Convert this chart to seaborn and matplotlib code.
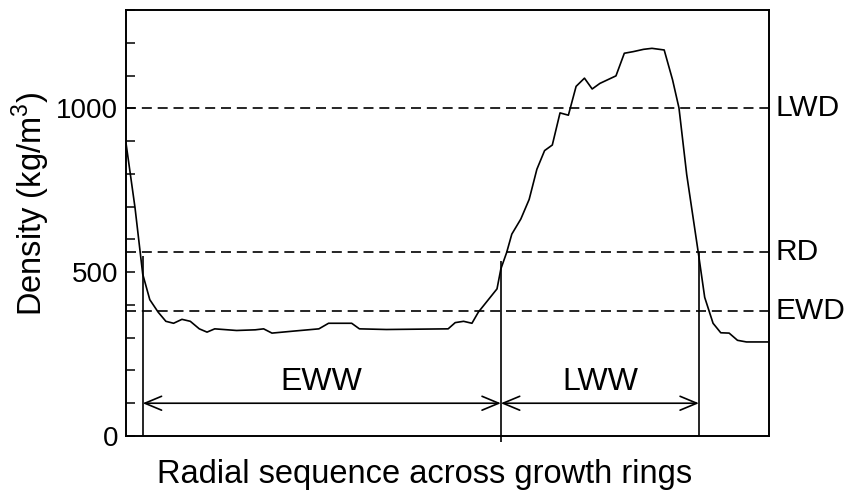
import numpy as np
import pandas as pd
import matplotlib
matplotlib.use('Agg')
import matplotlib.pyplot as plt
import matplotlib.transforms as mtransforms
import seaborn as sns

# Density profile (position in % of ring width)
position = [0, 1.4, 2.6, 3.7, 5.0, 6.2, 7.4, 8.7, 10.0, 11.4, 12.6, 13.8, 17.2, 20.1,
            21.4, 22.7, 26.0, 30.0, 31.5, 35.1, 36.3, 40.5, 50.1, 51.2, 52.5, 53.8,
            54.8, 57.7, 58.3, 59.2, 60.0, 61.4, 62.7, 63.9, 65.1, 66.3, 67.5, 68.8,
            70.0, 71.3, 72.5, 73.7, 76.2, 77.5, 78.9, 80.5, 81.8, 83.7, 85.0, 86.0,
            87.2, 89.0, 90.0, 91.3, 92.5, 93.8, 95.1, 96.5, 100]
density = [894, 697, 494, 416, 378, 350, 344, 356, 350, 327, 317, 327, 322, 324,
           327, 314, 320, 327, 344, 344, 327, 325, 327, 346, 350, 344,
           378, 449, 510, 560, 616, 662, 722, 814, 871, 888, 986, 979,
           1067, 1092, 1059, 1076, 1099, 1168, 1173, 1180, 1183, 1178, 1087, 1001,
           798, 560, 423, 344, 315, 314, 292, 287, 287]

# Reference density levels
level_names = ['LWD', 'RD', 'EWD']
level_values = [1000, 560, 380]

# Earlywood / latewood boundaries
bound_pos = [2.6, 58.3, 89.1]
bound_top = [550, 535, 560]
bound_bottom = [0, -18, 0]

# Width arrows
width_names = ['EWW', 'LWW']
width_start = [2.6, 58.3]
width_end = [58.3, 89.1]
arrow_level = 100

df = pd.DataFrame({'position': position, 'density': density})

sns.set_theme(style='ticks')
plt.rcParams['font.family'] = ['Liberation Sans', 'DejaVu Sans']
plt.rcParams['mathtext.fontset'] = 'custom'
plt.rcParams['mathtext.rm'] = 'Liberation Sans'
plt.rcParams['text.color'] = 'black'
plt.rcParams['axes.labelcolor'] = 'black'

fig = plt.figure(figsize=(8.54, 4.99), dpi=100)
ax = fig.add_axes([126 / 854, 63 / 499, 643 / 854, 426 / 499])

sns.lineplot(data=df, x='position', y='density', color='black', lw=1.2,
             estimator=None, ax=ax)

# dashed reference levels with labels at the right
trans = mtransforms.blended_transform_factory(ax.transAxes, ax.transData)
for name, val in zip(level_names, level_values):
    ax.axhline(val, color='black', lw=1.2, ls=(0, (6, 3.5)))
    ax.annotate(name, xy=(1, val), xycoords=trans, xytext=(5, 0),
                textcoords='offset points', ha='left', va='center', fontsize=21.5)

ax.vlines(bound_pos, bound_bottom, bound_top, color='black', lw=1.2, clip_on=False)

for name, x0, x1 in zip(width_names, width_start, width_end):
    ax.annotate('', xy=(x1, arrow_level), xytext=(x0, arrow_level),
                arrowprops=dict(arrowstyle='<->,head_length=1.2,head_width=0.5',
                                color='black', lw=1.2, shrinkA=0, shrinkB=0,
                                mutation_scale=10))
    ax.text((x0 + x1) / 2, arrow_level + 66, name, ha='center', va='center',
            fontsize=23)

ax.set_xlim(0, 100)
ax.set_ylim(0, 1300)
ax.set_yticks([0, 500, 1000])
ax.set_yticks(np.arange(0, 1301, 100), minor=True)
ax.set_xticks([])
ax.tick_params(axis='y', which='both', direction='in', length=6.5, width=1.1,
               labelsize=20, pad=5.5, colors='black')
for s in ax.spines.values():
    s.set_linewidth(1.4)
    s.set_color('black')

ax.set_xlabel('Radial sequence across growth rings', fontsize=23.5)
ax.set_ylabel('Density (kg/m$^3$)', fontsize=23.5)
ax.xaxis.set_label_coords(0.465, -0.054)
ax.yaxis.set_label_coords(-0.115, 0.545)

fig.savefig('out.png', dpi=100)
